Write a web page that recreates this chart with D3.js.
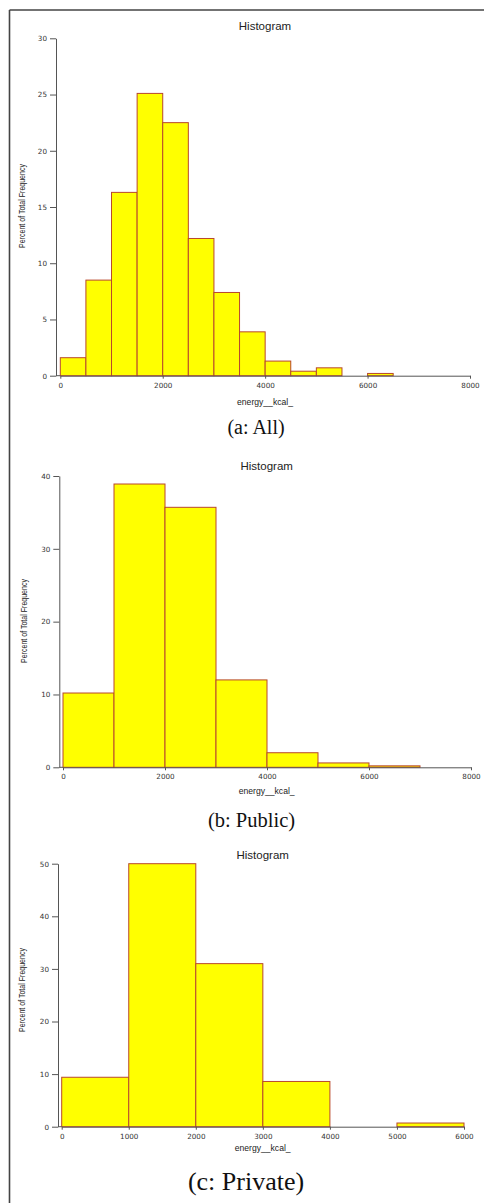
<!DOCTYPE html>
<html>
<head>
<meta charset="utf-8">
<script src="https://cdn.jsdelivr.net/npm/d3@7"></script>
<style>
  body { margin: 0; background: #fff; }
  svg { display: block; }
  .tick text { font-family: 'DejaVu Sans', sans-serif; font-size: 7.2px; fill: #333; }
  .axis path, .axis line { stroke: #555; }
</style>
</head>
<body>
<svg width="484" height="1203"></svg>
<script>
// (a: All) -- 500 kcal bins
var edgesA = [0, 500, 1000, 1500, 2000, 2500, 3000, 3500, 4000, 4500, 5000, 5500, 6000]
var pctA   = [1.6, 8.5, 16.3, 25.1, 22.5, 12.2, 7.4, 3.9, 1.3, 0.4, 0.7, 0, 0.2]
var xTicksA = [0, 2000, 4000, 6000, 8000]
var yTicksA = [0, 5, 10, 15, 20, 25, 30]

// (b: Public) -- 1000 kcal bins
var edgesB = [0, 1000, 2000, 3000, 4000, 5000, 6000]
var pctB   = [10.2, 38.9, 35.7, 12.0, 2.0, 0.6, 0.2]
var xTicksB = [0, 2000, 4000, 6000, 8000]
var yTicksB = [0, 10, 20, 30, 40]

// (c: Private) -- 1000 kcal bins
var edgesC = [0, 1000, 2000, 3000, 4000, 5000]
var pctC   = [9.4, 50.0, 31.0, 8.6, 0, 0.7]
var xTicksC = [0, 1000, 2000, 3000, 4000, 5000, 6000]
var yTicksC = [0, 10, 20, 30, 40, 50]

var svg = d3.select('svg')

// frame round the figure (top and left only)
svg.append('line').attr('x1', 9.5).attr('y1', 10).attr('x2', 484).attr('y2', 10)
    .attr('stroke', '#444').attr('stroke-width', 1.6)
svg.append('line').attr('x1', 9.5).attr('y1', 10).attr('x2', 9.5).attr('y2', 1203)
    .attr('stroke', '#444').attr('stroke-width', 1.6)

function histogram(p) {
  var x = d3.scaleLinear().domain([0, p.xmax]).range([p.x0, p.x1])
  var y = d3.scaleLinear().domain([0, p.ymax]).range([p.y0, p.y1])
  var g = svg.append('g')

  g.selectAll('rect')
    .data(p.edges.map(function(e, i) { return { lo: e, hi: e + p.bw, v: p.pct[i] } })
                 .filter(function(d) { return d.v > 0 }))
    .enter().append('rect')
      .attr('x', function(d) { return x(d.lo) })
      .attr('y', function(d) { return y(d.v) })
      .attr('width', function(d) { return x(d.hi) - x(d.lo) })
      .attr('height', function(d) { return y(0) - y(d.v) })
      .attr('fill', '#ffff00')
      .attr('stroke', '#b8482c')
      .attr('stroke-width', 1)

  // y axis sits a bit left of x(0)
  g.append('g').attr('class', 'axis')
      .attr('transform', 'translate(' + p.ax + ',0)')
      .call(d3.axisLeft(y).tickValues(p.yt).tickSize(6).tickPadding(3).tickSizeOuter(0))

  g.append('g').attr('class', 'axis')
      .attr('transform', 'translate(0,' + y(0) + ')')
      .call(d3.axisBottom(x).tickValues(p.xt).tickFormat(d3.format('d'))
              .tickSize(3).tickPadding(4).tickSizeOuter(0))

  g.append('line').attr('x1', p.ax).attr('x2', x(0)).attr('y1', y(0)).attr('y2', y(0))
      .attr('stroke', '#555')

  g.append('text').text('Histogram')
      .attr('x', p.tx).attr('y', p.ty)
      .attr('text-anchor', 'middle')
      .style('font-family', 'Liberation Sans, Arial, sans-serif').style('font-size', '11.5px')
      .attr('fill', '#222')

  g.append('text').text('energy__kcal_')
      .attr('x', p.tx).attr('y', p.ly)
      .attr('text-anchor', 'middle')
      .style('font-family', 'Liberation Sans, Arial, sans-serif').style('font-size', '8.6px')
      .attr('fill', '#222')

  g.append('text').text('Percent of Total Frequency')
      .attr('transform', 'translate(' + p.yl + ',' + p.ylc + ') rotate(-90)')
      .attr('text-anchor', 'middle')
      .attr('dy', '0.35em')
      .attr('textLength', 84).attr('lengthAdjust', 'spacingAndGlyphs')
      .style('font-family', 'Liberation Sans Narrow, Arial Narrow, sans-serif').style('font-size', '9px')
      .attr('fill', '#222')

  svg.append('text').text(p.cap)
      .attr('x', p.cx).attr('y', p.cy)
      .attr('text-anchor', 'middle')
      .style('font-family', 'Liberation Serif, Times New Roman, serif').style('font-size', p.cs + 'px')
      .attr('fill', '#111')
}

histogram({ edges: edgesA, pct: pctA, bw: 500, xmax: 8000, ymax: 30, xt: xTicksA, yt: yTicksA,
  x0: 60.3, x1: 470, y0: 375.7, y1: 38.3, ax: 56,
  tx: 265, ty: 30, ly: 405, yl: 22, ylc: 206,
  cap: '(a: All)', cx: 256, cy: 434, cs: 20 })

histogram({ edges: edgesB, pct: pctB, bw: 1000, xmax: 8000, ymax: 40, xt: xTicksB, yt: yTicksB,
  x0: 63, x1: 471, y0: 767.3, y1: 476, ax: 59.3,
  tx: 266.7, ty: 469.5, ly: 794, yl: 24, ylc: 621,
  cap: '(b: Public)', cx: 251.5, cy: 827, cs: 20.5 })

histogram({ edges: edgesC, pct: pctC, bw: 1000, xmax: 6000, ymax: 50, xt: xTicksC, yt: yTicksC,
  x0: 61.7, x1: 464, y0: 1126.7, y1: 863.7, ax: 58,
  tx: 262.7, ty: 858.5, ly: 1150.5, yl: 22, ylc: 990,
  cap: '(c: Private)', cx: 246, cy: 1190, cs: 26 })
</script>
</body>
</html>
